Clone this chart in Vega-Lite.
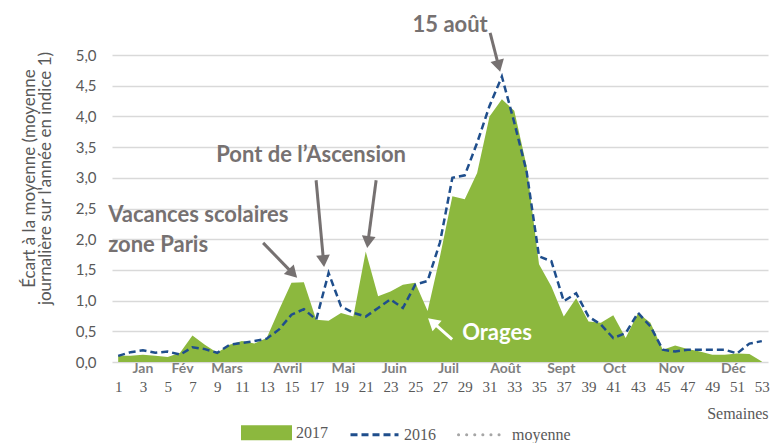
{
  "$schema": "https://vega.github.io/schema/vega-lite/v6.json",
  "width": 656,
  "height": 307,
  "autosize": {"type": "none"},
  "padding": {"left": 112, "top": 55, "right": 6, "bottom": 81},
  "background": "white",
  "config": {
    "view": {"stroke": null},
    "font": "Lato",
    "axis": {"labelFont": "Lato", "titleFont": "Lato"}
  },
  "datasets": {
    "series": [
      {"semaine": 1, "v2017": 0.10, "v2016": 0.10},
      {"semaine": 2, "v2017": 0.10, "v2016": 0.16},
      {"semaine": 3, "v2017": 0.12, "v2016": 0.19},
      {"semaine": 4, "v2017": 0.10, "v2016": 0.15},
      {"semaine": 5, "v2017": 0.08, "v2016": 0.17},
      {"semaine": 6, "v2017": 0.15, "v2016": 0.12},
      {"semaine": 7, "v2017": 0.43, "v2016": 0.24},
      {"semaine": 8, "v2017": 0.28, "v2016": 0.21},
      {"semaine": 9, "v2017": 0.15, "v2016": 0.15},
      {"semaine": 10, "v2017": 0.28, "v2016": 0.28},
      {"semaine": 11, "v2017": 0.34, "v2016": 0.31},
      {"semaine": 12, "v2017": 0.30, "v2016": 0.34},
      {"semaine": 13, "v2017": 0.39, "v2016": 0.38},
      {"semaine": 14, "v2017": 0.85, "v2016": 0.53},
      {"semaine": 15, "v2017": 1.29, "v2016": 0.77},
      {"semaine": 16, "v2017": 1.30, "v2016": 0.86},
      {"semaine": 17, "v2017": 0.69, "v2016": 0.69},
      {"semaine": 18, "v2017": 0.67, "v2016": 1.45},
      {"semaine": 19, "v2017": 0.80, "v2016": 0.91},
      {"semaine": 20, "v2017": 0.74, "v2016": 0.80},
      {"semaine": 21, "v2017": 1.80, "v2016": 0.74},
      {"semaine": 22, "v2017": 1.07, "v2016": 0.88},
      {"semaine": 23, "v2017": 1.15, "v2016": 1.02},
      {"semaine": 24, "v2017": 1.26, "v2016": 0.88},
      {"semaine": 25, "v2017": 1.29, "v2016": 1.26},
      {"semaine": 26, "v2017": 0.83, "v2016": 1.32},
      {"semaine": 27, "v2017": 1.72, "v2016": 1.95},
      {"semaine": 28, "v2017": 2.70, "v2016": 3.00},
      {"semaine": 29, "v2017": 2.65, "v2016": 3.04},
      {"semaine": 30, "v2017": 3.08, "v2016": 3.57},
      {"semaine": 31, "v2017": 4.00, "v2016": 4.17},
      {"semaine": 32, "v2017": 4.28, "v2016": 4.65},
      {"semaine": 33, "v2017": 4.09, "v2016": 3.90},
      {"semaine": 34, "v2017": 3.19, "v2016": 3.10},
      {"semaine": 35, "v2017": 1.59, "v2016": 1.72},
      {"semaine": 36, "v2017": 1.23, "v2016": 1.64},
      {"semaine": 37, "v2017": 0.74, "v2016": 0.99},
      {"semaine": 38, "v2017": 1.04, "v2016": 1.12},
      {"semaine": 39, "v2017": 0.66, "v2016": 0.74},
      {"semaine": 40, "v2017": 0.64, "v2016": 0.61},
      {"semaine": 41, "v2017": 0.76, "v2016": 0.39},
      {"semaine": 42, "v2017": 0.39, "v2016": 0.47},
      {"semaine": 43, "v2017": 0.80, "v2016": 0.80},
      {"semaine": 44, "v2017": 0.64, "v2016": 0.58},
      {"semaine": 45, "v2017": 0.20, "v2016": 0.20},
      {"semaine": 46, "v2017": 0.27, "v2016": 0.17},
      {"semaine": 47, "v2017": 0.21, "v2016": 0.20},
      {"semaine": 48, "v2017": 0.17, "v2016": 0.20},
      {"semaine": 49, "v2017": 0.12, "v2016": 0.20},
      {"semaine": 50, "v2017": 0.12, "v2016": 0.20},
      {"semaine": 51, "v2017": 0.14, "v2016": 0.14},
      {"semaine": 52, "v2017": 0.13, "v2016": 0.30},
      {"semaine": 53, "v2017": 0.01, "v2016": 0.34}
    ],
    "mois": [
      {"mois": "Jan", "semaine": 3.0},
      {"mois": "Fév", "semaine": 6.2},
      {"mois": "Mars", "semaine": 9.8},
      {"mois": "Avril", "semaine": 14.7},
      {"mois": "Mai", "semaine": 19.2},
      {"mois": "Juin", "semaine": 23.3},
      {"mois": "Juil", "semaine": 27.7},
      {"mois": "Août", "semaine": 32.3},
      {"mois": "Sept", "semaine": 36.8},
      {"mois": "Oct", "semaine": 41.1},
      {"mois": "Nov", "semaine": 45.7},
      {"mois": "Déc", "semaine": 50.7}
    ],
    "titresCentres": [
      {"texte": "15 août", "semaine": 27.82, "valeur": 5.49},
      {"texte": "Pont de l’Ascension", "semaine": 16.59, "valeur": 3.37}
    ],
    "titresGauche": [
      {"texte": "Vacances scolaires", "semaine": 0.19, "valeur": 2.39},
      {"texte": "zone Paris", "semaine": 0.19, "valeur": 1.91}
    ],
    "titresBlancs": [
      {"texte": "Orages", "semaine": 28.79, "valeur": 0.47}
    ],
    "flechesGrises": [
      {"x1": 31.05, "y1": 5.36, "x2": 31.74, "y2": 4.82, "angle": 165.6},
      {"x1": 16.99, "y1": 2.96, "x2": 17.59, "y2": 1.645, "angle": 174.7},
      {"x1": 21.84, "y1": 2.96, "x2": 21.18, "y2": 1.955, "angle": 187.5},
      {"x1": 12.71, "y1": 1.94, "x2": 15.12, "y2": 1.44, "angle": 135.8}
    ],
    "flechesBlanches": [
      {"x1": 27.98, "y1": 0.37, "x2": 26.4, "y2": 0.65, "angle": 311.2}
    ]
  },
  "encoding": {
    "x": {
      "field": "semaine",
      "type": "quantitative",
      "scale": {"domain": [0.5, 53.5], "nice": false, "zero": false},
      "axis": {
        "values": [1,3,5,7,9,11,13,15,17,19,21,23,25,27,29,31,33,35,37,39,41,43,45,47,49,51,53],
        "title": "Semaines",
        "titleAnchor": "end",
        "titleFont": "Liberation Sans Narrow",
        "titleFontSize": 16,
        "titleFontWeight": "normal",
        "titleColor": "#595959",
        "titlePadding": 11,
        "labelFont": "Liberation Sans Narrow",
        "labelFontSize": 15,
        "labelColor": "#595959",
        "labelPadding": 17,
        "tickSize": 0,
        "ticks": false,
        "domain": false,
        "grid": false
      }
    },
    "y": {
      "type": "quantitative",
      "scale": {"domain": [0, 5], "nice": false},
      "axis": {
        "values": [0, 0.5, 1, 1.5, 2, 2.5, 3, 3.5, 4, 4.5, 5],
        "labelExpr": "replace(format(datum.value, '.1f'), '.', ',')",
        "title": ["Écart à la moyenne (moyenne", "journalière sur l'année en indice 1)"],
        "titleFontSize": 17,
        "titleFontWeight": "normal",
        "titleColor": "#595959",
        "titleLineHeight": 16,
        "titlePadding": 21,
        "titleY": 123,
        "labelFontSize": 15,
        "labelColor": "#595959",
        "labelPadding": 16,
        "tickSize": 0,
        "ticks": false,
        "domain": false,
        "grid": true,
        "gridColor": "#d9d9d9",
        "gridWidth": 1.5
      }
    }
  },
  "layer": [
    {
      "data": {"name": "series"},
      "mark": {"type": "area", "interpolate": "linear"},
      "encoding": {
        "y": {"field": "v2017", "type": "quantitative"},
        "color": {
          "datum": "2017",
          "scale": {"domain": ["2017", "2016", "moyenne"], "range": ["#8cb83e", "#1f4e8c", "#a6a6a6"]},
          "legend": {
            "orient": "none",
            "legendX": 129,
            "legendY": 352,
            "direction": "horizontal",
            "title": null,
            "symbolType": "stroke",
            "symbolSize": 2304,
            "symbolStrokeWidth": 3,
            "labelFont": "Liberation Sans Narrow",
            "labelFontSize": 16,
            "labelColor": "#595959",
            "labelOffset": 4,
            "columnPadding": 16,
            "padding": 0,
            "encode": {
              "symbols": {
                "update": {
                  "shape": {"signal": "datum.value === '2017' ? 'M-1,-0.25H1V0.25H-1Z' : 'stroke'"},
                  "fill": {"signal": "datum.value === '2017' ? scale('color', datum.value) : 'transparent'"},
                  "stroke": {"signal": "datum.value === '2017' ? 'transparent' : scale('color', datum.value)"},
                  "strokeDash": {"signal": "datum.value === '2016' ? [7, 4] : (datum.value === 'moyenne' ? [0.1, 8] : [])"},
                  "strokeCap": {"signal": "datum.value === 'moyenne' ? 'round' : 'butt'"}
                }
              }
            }
          }
        }
      }
    },
    {
      "mark": {"type": "rule", "strokeDash": [0.1, 9.3], "strokeCap": "round", "strokeWidth": 4.5},
      "encoding": {
        "x": null,
        "y": {"datum": 1},
        "color": {"datum": "moyenne"}
      }
    },
    {
      "data": {"name": "series"},
      "mark": {"type": "line", "strokeDash": [7, 4], "strokeWidth": 2.5},
      "encoding": {
        "y": {"field": "v2016", "type": "quantitative"},
        "color": {"datum": "2016"}
      }
    },
    {
      "data": {"name": "mois"},
      "mark": {"type": "text", "fontWeight": "bold", "fontSize": 14, "color": "#7f7f7f", "baseline": "middle", "dy": 7},
      "encoding": {
        "y": {"datum": 0},
        "text": {"field": "mois"}
      }
    },
    {
      "data": {"name": "flechesGrises"},
      "mark": {"type": "rule", "color": "#767171", "strokeWidth": 3},
      "encoding": {
        "x": {"field": "x1", "type": "quantitative"},
        "y": {"field": "y1", "type": "quantitative"},
        "x2": {"field": "x2"},
        "y2": {"field": "y2"}
      }
    },
    {
      "data": {"name": "flechesGrises"},
      "mark": {"type": "point", "shape": "triangle-up", "filled": true, "color": "#767171", "size": 190, "opacity": 1},
      "encoding": {
        "x": {"field": "x2", "type": "quantitative"},
        "y": {"field": "y2", "type": "quantitative"},
        "angle": {"field": "angle", "type": "quantitative", "scale": null}
      }
    },
    {
      "data": {"name": "flechesBlanches"},
      "mark": {"type": "rule", "color": "white", "strokeWidth": 3},
      "encoding": {
        "x": {"field": "x1", "type": "quantitative"},
        "y": {"field": "y1", "type": "quantitative"},
        "x2": {"field": "x2"},
        "y2": {"field": "y2"}
      }
    },
    {
      "data": {"name": "flechesBlanches"},
      "mark": {"type": "point", "shape": "triangle-up", "filled": true, "color": "white", "size": 190, "opacity": 1},
      "encoding": {
        "x": {"field": "x2", "type": "quantitative"},
        "y": {"field": "y2", "type": "quantitative"},
        "angle": {"field": "angle", "type": "quantitative", "scale": null}
      }
    },
    {
      "data": {"name": "titresCentres"},
      "mark": {"type": "text", "fontWeight": "bold", "fontSize": 22, "color": "#767171", "align": "center", "baseline": "middle"},
      "encoding": {
        "y": {"field": "valeur", "type": "quantitative"},
        "text": {"field": "texte"}
      }
    },
    {
      "data": {"name": "titresGauche"},
      "mark": {"type": "text", "fontWeight": "bold", "fontSize": 22, "color": "#767171", "align": "left", "baseline": "middle"},
      "encoding": {
        "y": {"field": "valeur", "type": "quantitative"},
        "text": {"field": "texte"}
      }
    },
    {
      "data": {"name": "titresBlancs"},
      "mark": {"type": "text", "fontWeight": "bold", "fontSize": 22, "color": "white", "align": "left", "baseline": "middle"},
      "encoding": {
        "y": {"field": "valeur", "type": "quantitative"},
        "text": {"field": "texte"}
      }
    }
  ]
}
